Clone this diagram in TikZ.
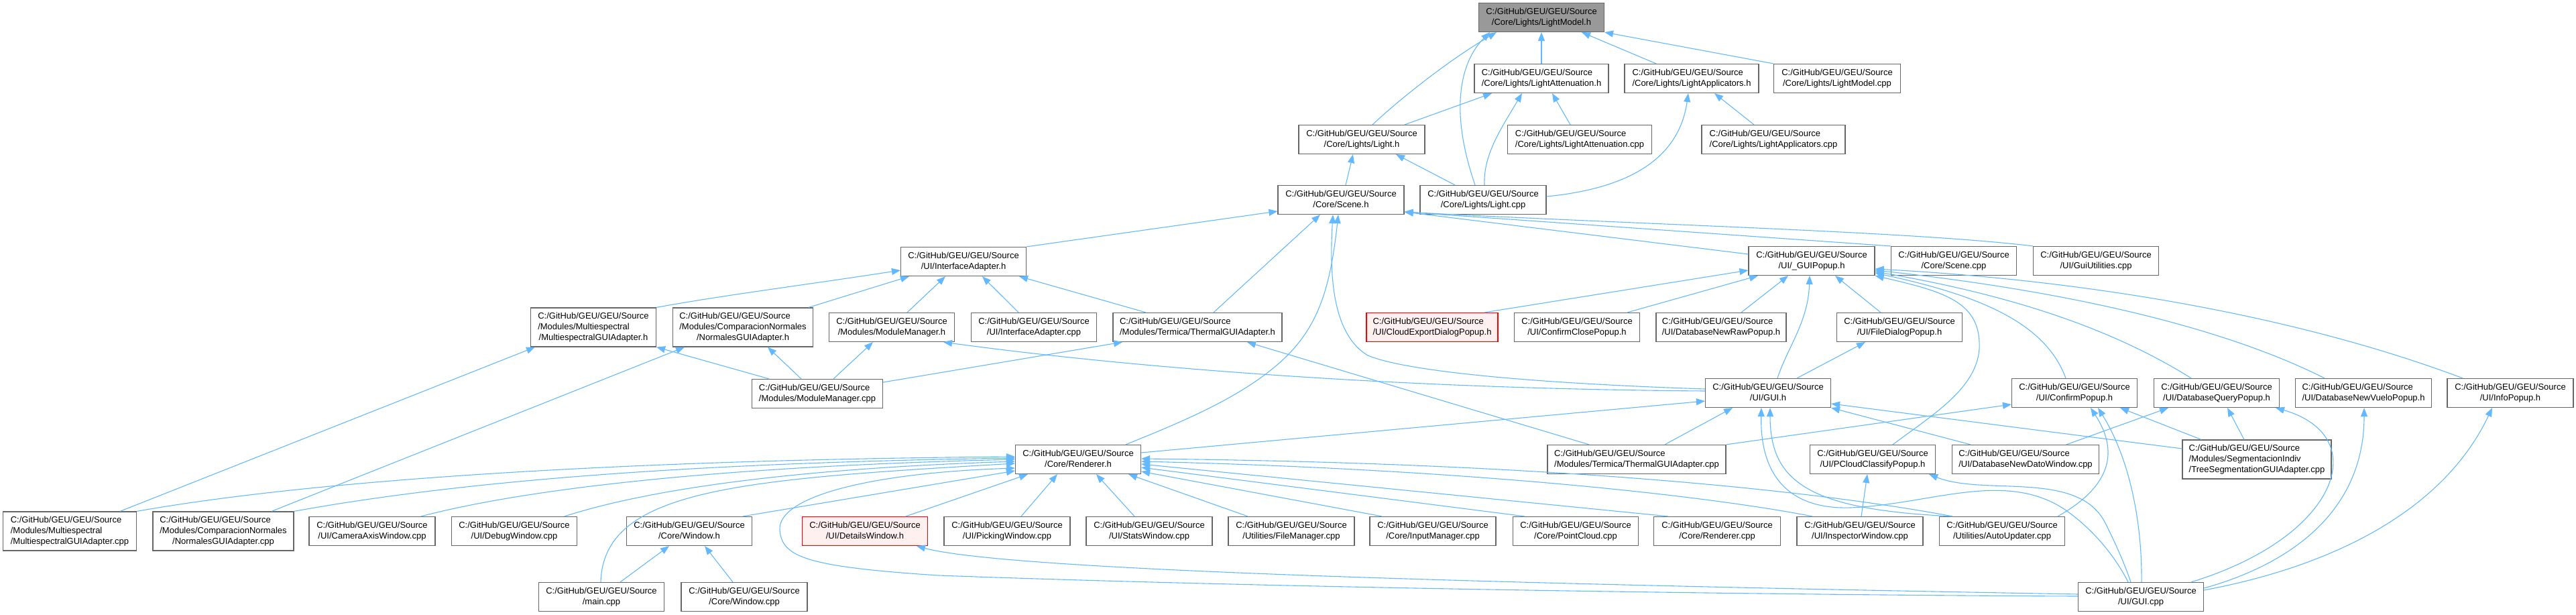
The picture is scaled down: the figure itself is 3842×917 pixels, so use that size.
\documentclass[tikz,border=0pt]{standalone}
\usepackage{fontspec}
\setmainfont{Liberation Sans}
\usetikzlibrary{arrows.meta}
\definecolor{edgeblue}{HTML}{63B8FF}
\definecolor{nodeline}{HTML}{666666}
\definecolor{hlfill}{HTML}{999999}
\definecolor{redfill}{HTML}{FFF0F0}
\newcommand{\fileB}[1]{\begin{tabular}{@{}l@{}}C:/GitHub/GEU/GEU/Source\\\multicolumn{1}{@{}c@{}}{#1}\end{tabular}}
\newcommand{\fileC}[2]{\begin{tabular}{@{}l@{}}C:/GitHub/GEU/GEU/Source\\#1\\\multicolumn{1}{@{}c@{}}{#2}\end{tabular}}
\begin{document}
\begin{tikzpicture}[x=1pt,y=-1pt,
  file/.style={draw=nodeline, fill=white, line width=1.2pt, inner sep=0pt,
    minimum height=43pt, minimum width=188pt, font=\fontsize{13}{16}\selectfont},
  file3/.style={file, minimum height=58pt},
  hl/.style={fill=hlfill},
  redbox/.style={draw=red, fill=redfill},
  dep/.style={draw=edgeblue, line width=1.1pt, {Triangle[length=13pt,width=10pt]}-}]
\useasboundingbox (0,0) rectangle (3842,917);
% row 0
\node[file,hl,minimum width=187pt] (lm) at (2299,26) {\fileB{/Core/Lights/LightModel.h}};
% row 1
\node[file,minimum width=200pt] (lah) at (2299,117) {\fileB{/Core/Lights/LightAttenuation.h}};
\node[file,minimum width=200pt] (lap) at (2523,117) {\fileB{/Core/Lights/LightApplicators.h}};
\node[file,minimum width=189pt] (lmc) at (2740,117) {\fileB{/Core/Lights/LightModel.cpp}};
% row 2
\node[file] (lh) at (2031,208) {\fileB{/Core/Lights/Light.h}};
\node[file,minimum width=215pt] (lac) at (2356,208) {\fileB{/Core/Lights/LightAttenuation.cpp}};
\node[file,minimum width=214pt] (lapc) at (2645,208) {\fileB{/Core/Lights/LightApplicators.cpp}};
% row 3
\node[file] (sh) at (2000,298) {\fileB{/Core/Scene.h}};
\node[file] (lc) at (2212,298) {\fileB{/Core/Lights/Light.cpp}};
% row 4
\node[file,minimum width=187pt] (iah) at (1437,390) {\fileB{/UI/InterfaceAdapter.h}};
\node[file] (gp) at (2702,389) {\fileB{/UI/\_GUIPopup.h}};
\node[file,minimum width=187pt] (sc) at (2914,389) {\fileB{/Core/Scene.cpp}};
\node[file,minimum width=187pt] (gu) at (3126,389) {\fileB{/UI/GuiUtilities.cpp}};
% row 5
\node[file3,minimum width=187pt] (msh) at (885,488) {\fileC{/Modules/Multiespectral}{/MultiespectralGUIAdapter.h}};
\node[file3,minimum width=209pt] (nh) at (1108,488) {\fileC{/Modules/ComparacionNormales}{/NormalesGUIAdapter.h}};
\node[file,minimum width=187pt] (mmh) at (1330,488) {\fileB{/Modules/ModuleManager.h}};
\node[file,minimum width=187pt] (iac) at (1542,488) {\fileB{/UI/InterfaceAdapter.cpp}};
\node[file,minimum width=252pt] (th) at (1786,488) {\fileB{/Modules/Termica/ThermalGUIAdapter.h}};
\node[file,redbox,minimum width=196pt] (ce) at (2136,488) {\fileB{/UI/CloudExportDialogPopup.h}};
\node[file,minimum width=187pt] (ccp) at (2352,488) {\fileB{/UI/ConfirmClosePopup.h}};
\node[file,minimum width=194pt] (dnr) at (2567,488) {\fileB{/UI/DatabaseNewRawPopup.h}};
\node[file,minimum width=187pt] (fd) at (2833,488) {\fileB{/UI/FileDialogPopup.h}};
% row 6
\node[file,minimum width=195pt] (mmc) at (1219,587) {\fileB{/Modules/ModuleManager.cpp}};
\node[file,minimum width=187pt] (guih) at (2637,586) {\fileB{/UI/GUI.h}};
\node[file,minimum width=187pt] (cp) at (3094,586) {\fileB{/UI/ConfirmPopup.h}};
\node[file,minimum width=187pt] (dq) at (3306,586) {\fileB{/UI/DatabaseQueryPopup.h}};
\node[file,minimum width=203pt] (dnv) at (3525,586) {\fileB{/UI/DatabaseNewVueloPopup.h}};
\node[file] (ip) at (3744,586) {\fileB{/UI/InfoPopup.h}};
% row 7
\node[file,minimum width=187pt] (rh) at (1608,685) {\fileB{/Core/Renderer.h}};
\node[file,minimum width=266pt] (tc) at (2441,685) {\fileB{/Modules/Termica/ThermalGUIAdapter.cpp}};
\node[file,minimum width=187pt] (pcc) at (2793,685) {\fileB{/UI/PCloudClassifyPopup.h}};
\node[file,minimum width=219pt] (dnd) at (3021,685) {\fileB{/UI/DatabaseNewDatoWindow.cpp}};
\node[file3,minimum width=222pt] (ts) at (3366,685) {\fileC{/Modules/SegmentacionIndiv}{/TreeSegmentationGUIAdapter.cpp}};
% row 8
\node[file3,minimum width=199pt] (msc) at (104,792) {\fileC{/Modules/Multiespectral}{/MultiespectralGUIAdapter.cpp}};
\node[file3,minimum width=210pt] (nc) at (333,792) {\fileC{/Modules/ComparacionNormales}{/NormalesGUIAdapter.cpp}};
\node[file] (caw) at (555,792) {\fileB{/UI/CameraAxisWindow.cpp}};
\node[file,minimum width=187pt] (dw) at (767,792) {\fileB{/UI/DebugWindow.cpp}};
\node[file,minimum width=187pt] (wh) at (1028,792) {\fileB{/Core/Window.h}};
\node[file,redbox,minimum width=187pt] (dwh) at (1290,792) {\fileB{/UI/DetailsWindow.h}};
\node[file] (pw) at (1502,792) {\fileB{/UI/PickingWindow.cpp}};
\node[file] (sw) at (1714,792) {\fileB{/UI/StatsWindow.cpp}};
\node[file] (fm) at (1926,792) {\fileB{/Utilities/FileManager.cpp}};
\node[file] (im) at (2137,792) {\fileB{/Core/InputManager.cpp}};
\node[file,minimum width=187pt] (pc) at (2350,792) {\fileB{/Core/PointCloud.cpp}};
\node[file,minimum width=189pt] (rc) at (2561,792) {\fileB{/Core/Renderer.cpp}};
\node[file] (iw) at (2774,792) {\fileB{/UI/InspectorWindow.cpp}};
\node[file,minimum width=187pt] (au) at (2986,792) {\fileB{/Utilities/AutoUpdater.cpp}};
% row 9
\node[file,minimum width=187pt] (mc) at (897,890) {\fileB{/main.cpp}};
\node[file] (wc) at (1110,890) {\fileB{/Core/Window.cpp}};
\node[file,minimum width=187pt] (gc) at (3193,890) {\fileB{/UI/GUI.cpp}};

% ---- edges: arrow at included file ----
% LightModel.h
\draw[dep] ([xshift=-67pt]lm.south) .. controls (2160,90) and (2085,150) .. ([xshift=16pt]lh.north);
\draw[dep] ([xshift=-77pt]lm.south) .. controls (2180,90) and (2160,160) .. ([xshift=-12pt]lc.north);
\draw[dep] (lm.south) -- (lah.north);
\draw[dep] ([xshift=60pt]lm.south) -- ([xshift=-53pt]lap.north);
\draw[dep] (lm.south east) -- (lmc.north west);
% LightAttenuation.h
\draw[dep] ([xshift=-74pt]lah.south) -- ([xshift=64pt]lh.north);
\draw[dep] ([xshift=-29pt]lah.south) .. controls (2240,190) and (2212,230) .. ([xshift=2pt]lc.north);
\draw[dep] ([xshift=16pt]lah.south) -- ([xshift=-14pt]lac.north);
% LightApplicators.h
\draw[dep] ([xshift=-5pt]lap.south) .. controls (2505,230) and (2440,280) .. ([yshift=5pt]lc.east);
\draw[dep] ([xshift=34pt]lap.south) -- ([xshift=-29pt]lapc.north);
% Light.h
\draw[dep] ([xshift=-13pt]lh.south) -- ([xshift=7pt]sh.north);
\draw[dep] ([xshift=51pt]lh.south) -- ([xshift=-42pt]lc.north);
% Scene.h
\draw[dep] ([yshift=-17pt]sh.west) -- (iah.north east);
\draw[dep] ([xshift=-31pt]sh.south) -- ([xshift=24pt]th.north);
\draw[dep] ([xshift=-12pt]sh.south) .. controls (1982,420) and (1990,500) .. (2040,530) .. controls (2100,555) and (2300,572) .. ([yshift=6pt]guih.west);
\draw[dep] ([xshift=-4pt]sh.south) .. controls (1985,420) and (1970,480) .. (1920,530) .. controls (1860,590) and (1760,630) .. ([xshift=71pt]rh.north);
\draw[dep] ([yshift=-18pt]sh.east) -- ([yshift=10pt]gp.west);
\draw[dep] ([yshift=-18pt]sh.east) -- (sc.north west);
\draw[dep] ([yshift=-18pt]sh.east) .. controls (2450,335) and (2850,345) .. (gu.north west);
% InterfaceAdapter.h
\draw[dep] ([yshift=-13pt]iah.west) .. controls (1200,425) and (1080,440) .. (msh.north east);
\draw[dep] ([xshift=-81pt]iah.south) -- ([xshift=98pt]nh.north);
\draw[dep] ([xshift=-27pt]iah.south) -- ([xshift=23pt]mmh.north);
\draw[dep] ([xshift=28pt]iah.south) -- ([xshift=-23pt]iac.north);
\draw[dep] ([xshift=83pt]iah.south) -- ([xshift=-77pt]th.north);
% ModuleManager.cpp and friends
\draw[dep] (msh.south east) -- ([xshift=-72pt]mmc.north);
\draw[dep] ([xshift=37pt]nh.south) -- ([xshift=-24pt]mmc.north);
\draw[dep] ([xshift=-28pt]mmh.south) -- ([xshift=24pt]mmc.north);
\draw[dep] ([xshift=-112pt]th.south) -- ([yshift=17pt]mmc.east);
\draw[dep] ([xshift=77pt]mmh.south) .. controls (1700,550) and (2100,580) .. ([yshift=3pt]guih.west);
\draw[dep] ([yshift=-12pt]guih.west) -- ([yshift=10pt]rh.east);
\draw[dep] ([xshift=74pt]th.south) -- ([xshift=-71pt]tc.north);
% _GUIPopup.h
\draw[dep] ([yshift=-14pt]gp.west) -- ([xshift=78pt]ce.north);
\draw[dep] ([xshift=-80pt]gp.south) -- ([xshift=75pt]ccp.north);
\draw[dep] ([xshift=-35pt]gp.south) -- ([xshift=30pt]dnr.north);
\draw[dep] ([xshift=-3pt]gp.south) .. controls (2697,480) and (2665,520) .. ([xshift=14pt]guih.north);
\draw[dep] ([xshift=35pt]gp.south) -- ([xshift=-28pt]fd.north);
\draw[dep] (gp.south east) .. controls (2900,435) and (2955,450) .. (2952,520) .. controls (2948,580) and (2880,620) .. ([xshift=30pt]pcc.north);
\draw[dep] ([yshift=-18pt]gp.east) .. controls (2950,440) and (3050,480) .. ([xshift=-13pt]cp.north);
\draw[dep] ([yshift=-16pt]gp.east) .. controls (3000,440) and (3150,490) .. ([xshift=-38pt]dq.north);
\draw[dep] ([yshift=-14pt]gp.east) .. controls (3050,430) and (3300,480) .. ([xshift=-58pt]dnv.north);
\draw[dep] ([yshift=-12pt]gp.east) .. controls (3150,420) and (3450,480) .. ([xshift=-71pt]ip.north);
\draw[dep] ([xshift=-51pt]fd.south) -- ([xshift=43pt]guih.north);
% GUI.h
\draw[dep] ([xshift=-53pt]guih.south) -- ([xshift=42pt]tc.north);
\draw[dep] ([xshift=-10pt]guih.south) .. controls (2625,700) and (2660,760) .. (2760,757) .. controls (2880,752) and (2990,700) .. (3080,760) .. controls (3130,795) and (3160,840) .. ([xshift=-19pt]gc.north);
\draw[dep] ([xshift=3pt]guih.south) .. controls (2640,720) and (2700,760) .. ([xshift=20pt]au.north west);
\draw[dep] (guih.south east) -- ([xshift=-82pt]dnd.north);
\draw[dep] ([yshift=-16pt]guih.east) -- ([yshift=16pt]ts.west);
% ConfirmPopup.h
\draw[dep] ([yshift=-17pt]cp.west) -- (tc.north east);
\draw[dep] ([xshift=24pt]cp.south) .. controls (3165,680) and (3140,730) .. ([xshift=83pt]au.north);
\draw[dep] ([xshift=35pt]cp.south) .. controls (3180,690) and (3195,790) .. ([xshift=1pt]gc.north);
\draw[dep] ([xshift=68pt]cp.south) -- ([xshift=-83pt]ts.north);
% DatabaseQueryPopup.h
\draw[dep] ([xshift=-72pt]dq.south) -- ([xshift=61pt]dnd.north);
\draw[dep] ([xshift=16pt]dq.south) -- ([xshift=-19pt]ts.north);
\draw[dep] ([xshift=88pt]dq.south) .. controls (3540,650) and (3490,800) .. ([xshift=75pt]gc.north);
% NewVuelo, Info
\draw[dep] ([xshift=1pt]dnv.south) .. controls (3526,760) and (3420,840) .. ([yshift=13pt]gc.east);
\draw[dep] ([xshift=-27pt]ip.south) .. controls (3650,750) and (3500,840) .. ([yshift=10pt]gc.east);
% PCloudClassifyPopup.h
\draw[dep] ([xshift=-8pt]pcc.south) -- ([xshift=2pt]iw.north);
\draw[dep] ([xshift=84pt]pcc.south) .. controls (2960,740) and (3100,700) .. (3140,780) .. controls (3160,820) and (3170,845) .. ([xshift=-15pt]gc.north);
% Renderer.h left side
\draw[dep] ([yshift=4pt]rh.west) .. controls (1000,685) and (500,710) .. (msc.north east);
\draw[dep] ([yshift=2pt]rh.west) .. controls (1050,690) and (700,715) .. (nc.north east);
\draw[dep] (rh.west) .. controls (1100,695) and (800,725) .. ([xshift=73pt]caw.north);
\draw[dep] ([yshift=-3pt]rh.west) .. controls (1150,700) and (950,735) .. ([xshift=75pt]dw.north);
\draw[dep] ([yshift=-6pt]rh.west) .. controls (1100,715) and (900,730) .. ([xshift=-1pt]mc.north);
\draw[dep] ([yshift=-17pt]rh.west) -- ([xshift=80pt]wh.north);
\draw[dep] ([yshift=-13pt]rh.west) .. controls (1300,705) and (1160,740) .. (1163,790) .. controls (1166,830) and (1200,845) .. (1400,858) .. controls (2000,880) and (2800,888) .. ([yshift=1pt]gc.west);
% Renderer.h bottom
\draw[dep] ([xshift=-75pt]rh.south) -- ([xshift=61pt]dwh.north);
\draw[dep] ([xshift=-31pt]rh.south) -- ([xshift=21pt]pw.north);
\draw[dep] ([xshift=27pt]rh.south) -- ([xshift=-22pt]sw.north);
\draw[dep] ([xshift=75pt]rh.south) -- ([xshift=-65pt]fm.north);
% Renderer.h right side
\draw[dep] ([yshift=-18pt]rh.east) -- ([xshift=-76pt]im.north);
\draw[dep] ([yshift=-12pt]rh.east) -- ([xshift=-76pt]pc.north);
\draw[dep] ([yshift=-7pt]rh.east) -- ([xshift=-73pt]rc.north);
\draw[dep] ([yshift=-3pt]rh.east) .. controls (2200,700) and (2550,740) .. ([xshift=-71pt]iw.north);
\draw[dep] ([yshift=1pt]rh.east) .. controls (2300,690) and (2700,730) .. ([xshift=-74pt]au.north);
% DetailsWindow.h, Window.h
\draw[dep] ([xshift=77pt]dwh.south) .. controls (1500,850) and (2200,870) .. ([yshift=4pt]gc.west);
\draw[dep] ([xshift=-30pt]wh.south) -- ([xshift=28pt]mc.north);
\draw[dep] ([xshift=23pt]wh.south) -- ([xshift=-17pt]wc.north);
% GUI adapters
\draw[dep] ([xshift=-87pt]msh.south) -- ([xshift=75pt]msc.north);
\draw[dep] ([xshift=-87pt]nh.south) -- ([xshift=72pt]nc.north);
\end{tikzpicture}
\end{document}
